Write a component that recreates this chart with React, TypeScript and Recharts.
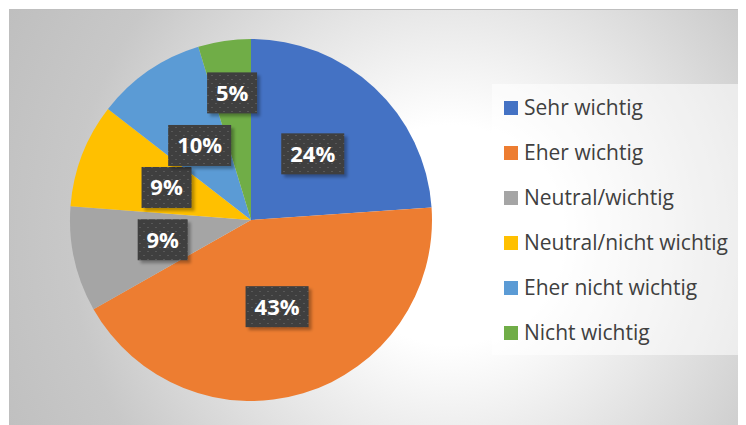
import React from 'react';
import { PieChart, Pie, Cell, Legend } from 'recharts';

if (typeof document !== 'undefined') {
  document.body.style.overflow = 'hidden';
}

const categories = [
  'Sehr wichtig',
  'Eher wichtig',
  'Neutral/wichtig',
  'Neutral/nicht wichtig',
  'Eher nicht wichtig',
  'Nicht wichtig',
];
const values = [23.9, 42.9, 9.4, 9.3, 9.8, 4.7];
const colors = ['#4472C4', '#ED7D31', '#A5A5A5', '#FFC000', '#5B9BD5', '#70AD47'];

const data = categories.map((name, i) => ({ name, value: values[i] }));

const RAD = Math.PI / 180;

const renderLabel = (props: any) => {
  const { cx, cy, midAngle, outerRadius, percent, index } = props;
  const f = percent < 0.06 ? 0.71 : 0.5;
  const r = outerRadius * f;
  const x = cx + r * Math.cos(-midAngle * RAD);
  const y = cy + r * Math.sin(-midAngle * RAD);
  const text = `${Math.round(percent * 100)}%`;
  const w = text.length === 2 ? 50 : 63;
  const h = 41;
  return (
    <g key={`lbl-${index}`}>
      <rect
        x={x - w / 2 + 3}
        y={y - h / 2 + 3}
        width={w}
        height={h}
        fill="rgba(0,0,0,0.3)"
        filter="url(#lblShadow)"
      />
      <rect x={x - w / 2} y={y - h / 2} width={w} height={h} fill="url(#lblPattern)" />
      <text
        x={x}
        y={y + 8}
        textAnchor="middle"
        fill="#ffffff"
        fontFamily="'Open Sans', sans-serif"
        fontWeight={700}
        fontSize={22}
      >
        {text}
      </text>
    </g>
  );
};

const renderLegend = () => {
  return (
    <div
      style={{
        width: 250,
        height: 271,
        background: 'rgba(255,255,255,0.55)',
        boxSizing: 'border-box',
        paddingTop: 1,
      }}
    >
      {categories.map((name, i) => (
        <div
          key={`leg-${i}`}
          style={{
            display: 'flex',
            alignItems: 'center',
            height: 45,
            paddingLeft: 12,
            fontFamily: "'Open Sans', sans-serif",
            fontSize: 21,
            color: '#404040',
            whiteSpace: 'nowrap',
          }}
        >
          <span
            style={{
              display: 'inline-block',
              width: 14,
              height: 14,
              background: colors[i],
              marginRight: 6,
            }}
          />
          <span style={{ lineHeight: '21px' }}>{name}</span>
        </div>
      ))}
    </div>
  );
};

export default function App() {
  return (
    <div
      style={{
        position: 'relative',
        marginTop: 1,
        marginLeft: 1,
        width: 736,
        height: 415,
        borderTop: '1px solid #bfbfbf',
        borderLeft: '1px solid #bfbfbf',
        background:
          'radial-gradient(circle at 440px 225px, #ffffff 0px, #ffffff 110px, #c8c8c8 380px, #bdbdbd 520px)',
      }}
    >
      <PieChart width={736} height={415} style={{ position: 'absolute', left: 0, top: 0 }}>
        <defs>
          <pattern id="lblPattern" x="0" y="0" width="8" height="8" patternUnits="userSpaceOnUse">
            <rect x="0" y="0" width="8" height="8" fill="#3f3f3f" />
            <rect x="1" y="1" width="2" height="1" fill="#585858" />
            <rect x="5" y="5" width="2" height="1" fill="#585858" />
          </pattern>
          <filter id="lblShadow" x="-20%" y="-20%" width="140%" height="140%">
            <feGaussianBlur stdDeviation="1.5" />
          </filter>
        </defs>
        <Pie
          data={data}
          dataKey="value"
          nameKey="name"
          cx={236}
          cy={205}
          outerRadius={181}
          startAngle={90}
          endAngle={-270}
          stroke="none"
          label={renderLabel}
          labelLine={false}
          isAnimationActive={false}
        >
          {data.map((d, i) => (
            <Cell key={`c-${i}`} fill={colors[i]} />
          ))}
        </Pie>
        <Legend
          layout="vertical"
          content={renderLegend}
          wrapperStyle={{ position: 'absolute', left: 482, top: 74, width: 250, height: 271 }}
        />
      </PieChart>
    </div>
  );
}
